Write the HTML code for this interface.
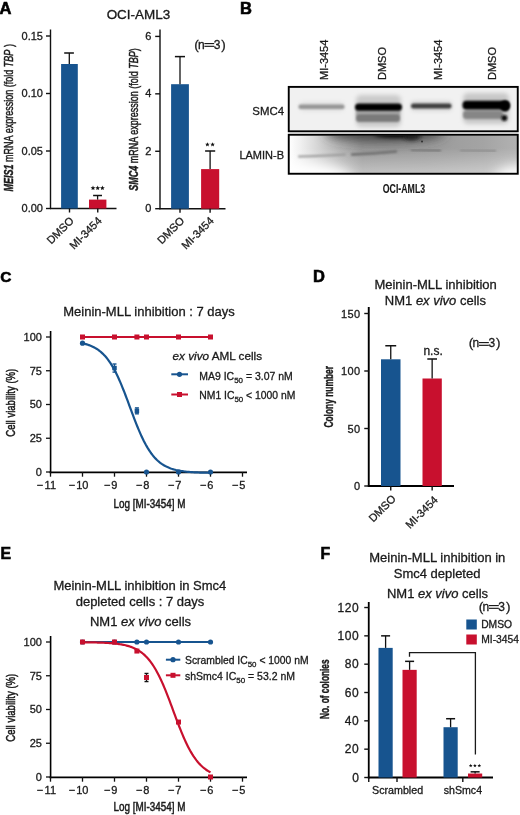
<!DOCTYPE html>
<html><head><meta charset="utf-8"><style>
html,body{margin:0;padding:0;background:#fff;}
svg{display:block;font-family:"Liberation Sans", sans-serif;will-change:transform;}
text{stroke:#1a1a1a;stroke-width:0.3px;}
</style></head><body>
<svg width="520" height="815" viewBox="0 0 520 815">
<rect width="520" height="815" fill="#fff"/>
<text x="-0.5" y="13.9" font-size="16.5" text-anchor="start" font-weight="bold" fill="#000" style="stroke:#000;stroke-width:0.6px">A</text>
<text x="240" y="14.2" font-size="16.5" text-anchor="start" font-weight="bold" fill="#000" style="stroke:#000;stroke-width:0.6px">B</text>
<text x="0.3" y="281.5" font-size="15.5" text-anchor="start" font-weight="bold" fill="#000" style="stroke:#000;stroke-width:0.6px">C</text>
<text x="313" y="282" font-size="16.5" text-anchor="start" font-weight="bold" fill="#000" style="stroke:#000;stroke-width:0.6px">D</text>
<text x="0.6" y="559.3" font-size="15.8" text-anchor="start" font-weight="bold" fill="#000" style="stroke:#000;stroke-width:0.6px">E</text>
<text x="320.4" y="559.0" font-size="15.8" text-anchor="start" font-weight="bold" fill="#000" style="stroke:#000;stroke-width:0.6px">F</text>
<text x="138.45" y="18.8" font-size="12" text-anchor="middle" fill="#1a1a1a" textLength="63.6" lengthAdjust="spacingAndGlyphs">OCI-AML3</text>
<line x1="50.5" y1="29.5" x2="50.5" y2="209.1" stroke="#111" stroke-width="1.4"/>
<line x1="49.9" y1="208.5" x2="116.5" y2="208.5" stroke="#111" stroke-width="1.4"/>
<line x1="46.0" y1="36.00000000000003" x2="50.5" y2="36.00000000000003" stroke="#111" stroke-width="1.4"/>
<text x="43" y="39.90000000000003" font-size="11" text-anchor="end" fill="#1a1a1a" >0.15</text>
<line x1="46.0" y1="93.5" x2="50.5" y2="93.5" stroke="#111" stroke-width="1.4"/>
<text x="43" y="97.4" font-size="11" text-anchor="end" fill="#1a1a1a" >0.10</text>
<line x1="46.0" y1="151.0" x2="50.5" y2="151.0" stroke="#111" stroke-width="1.4"/>
<text x="43" y="154.9" font-size="11" text-anchor="end" fill="#1a1a1a" >0.05</text>
<line x1="46.0" y1="208.5" x2="50.5" y2="208.5" stroke="#111" stroke-width="1.4"/>
<text x="43" y="212.4" font-size="11" text-anchor="end" fill="#1a1a1a" >0.00</text>
<rect x="61.1" y="64" width="16.7" height="144.5" fill="#17548f"/>
<line x1="69.3" y1="53" x2="69.3" y2="64" stroke="#111" stroke-width="1.3"/>
<line x1="64.2" y1="53" x2="73.9" y2="53" stroke="#111" stroke-width="1.5"/>
<rect x="89" y="199.6" width="17.4" height="8.900000000000006" fill="#c8102e"/>
<line x1="97.6" y1="195.5" x2="97.6" y2="199.6" stroke="#111" stroke-width="1.3"/>
<line x1="93.1" y1="195.5" x2="102" y2="195.5" stroke="#111" stroke-width="1.5"/>
<polygon points="93.00,185.55 93.66,187.14 95.38,187.28 94.07,188.40 94.47,190.07 93.00,189.18 91.53,190.07 91.93,188.40 90.62,187.28 92.34,187.14" fill="#111"/>
<polygon points="97.70,185.55 98.36,187.14 100.08,187.28 98.77,188.40 99.17,190.07 97.70,189.18 96.23,190.07 96.63,188.40 95.32,187.28 97.04,187.14" fill="#111"/>
<polygon points="102.40,185.55 103.06,187.14 104.78,187.28 103.47,188.40 103.87,190.07 102.40,189.18 100.93,190.07 101.33,188.40 100.02,187.28 101.74,187.14" fill="#111"/>
<line x1="69.5" y1="208.5" x2="69.5" y2="212.5" stroke="#111" stroke-width="1.4"/>
<line x1="97.75" y1="208.5" x2="97.75" y2="212.5" stroke="#111" stroke-width="1.4"/>
<text transform="translate(74.5,221.5) rotate(-45)" font-size="11" text-anchor="end" fill="#1a1a1a">DMSO</text>
<text transform="translate(102.5,221.5) rotate(-45)" font-size="11" text-anchor="end" fill="#1a1a1a">MI-3454</text>
<text transform="translate(12.9,117.8) rotate(-90)" font-size="12.5" text-anchor="middle" textLength="147.4" lengthAdjust="spacingAndGlyphs" fill="#1a1a1a" style="stroke-width:0.45px"><tspan font-style="italic" font-weight="bold">MEIS1</tspan><tspan> mRNA expression (fold </tspan><tspan font-style="italic">TBP</tspan><tspan> )</tspan></text>
<line x1="160" y1="29.5" x2="160" y2="209.29999999999998" stroke="#111" stroke-width="1.4"/>
<line x1="159.4" y1="208.7" x2="225.5" y2="208.7" stroke="#111" stroke-width="1.4"/>
<line x1="155.2" y1="36.41" x2="160" y2="36.41" stroke="#111" stroke-width="1.4"/>
<text x="151.4" y="39.809999999999995" font-size="11" text-anchor="end" fill="#1a1a1a" >6</text>
<line x1="155.2" y1="93.83999999999999" x2="160" y2="93.83999999999999" stroke="#111" stroke-width="1.4"/>
<text x="151.4" y="97.24" font-size="11" text-anchor="end" fill="#1a1a1a" >4</text>
<line x1="155.2" y1="151.26999999999998" x2="160" y2="151.26999999999998" stroke="#111" stroke-width="1.4"/>
<text x="151.4" y="154.67" font-size="11" text-anchor="end" fill="#1a1a1a" >2</text>
<line x1="155.2" y1="208.7" x2="160" y2="208.7" stroke="#111" stroke-width="1.4"/>
<text x="151.4" y="212.1" font-size="11" text-anchor="end" fill="#1a1a1a" >0</text>
<rect x="171.1" y="84.2" width="17.8" height="124.49999999999999" fill="#17548f"/>
<line x1="180" y1="56.6" x2="180" y2="84.2" stroke="#111" stroke-width="1.3"/>
<line x1="174.9" y1="56.6" x2="185" y2="56.6" stroke="#111" stroke-width="1.5"/>
<rect x="201.1" y="169.1" width="18.1" height="39.599999999999994" fill="#c8102e"/>
<line x1="210.1" y1="151" x2="210.1" y2="169.1" stroke="#111" stroke-width="1.3"/>
<line x1="205.1" y1="151" x2="215.2" y2="151" stroke="#111" stroke-width="1.5"/>
<polygon points="207.40,142.14 208.03,143.67 209.68,143.80 208.43,144.87 208.81,146.48 207.40,145.62 205.99,146.48 206.37,144.87 205.12,143.80 206.77,143.67" fill="#111"/>
<polygon points="212.60,142.14 213.23,143.67 214.88,143.80 213.63,144.87 214.01,146.48 212.60,145.62 211.19,146.48 211.57,144.87 210.32,143.80 211.97,143.67" fill="#111"/>
<line x1="180" y1="208.7" x2="180" y2="212.7" stroke="#111" stroke-width="1.4"/>
<line x1="210.1" y1="208.7" x2="210.1" y2="212.7" stroke="#111" stroke-width="1.4"/>
<text transform="translate(185,221.5) rotate(-45)" font-size="11" text-anchor="end" fill="#1a1a1a">DMSO</text>
<text transform="translate(214.5,221.5) rotate(-45)" font-size="11" text-anchor="end" fill="#1a1a1a">MI-3454</text>
<text x="194.16" y="48.7" font-size="13.5" text-anchor="start" fill="#1a1a1a" >(</text>
<text x="197.9" y="48.7" font-size="12" text-anchor="start" fill="#1a1a1a" >n</text>
<rect x="204.40" y="43" width="9.8" height="1.15" fill="#1a1a1a"/>
<rect x="204.40" y="45.75" width="9.8" height="1.15" fill="#1a1a1a"/>
<text x="213.74" y="48.7" font-size="12" text-anchor="start" fill="#1a1a1a" >3</text>
<text x="221.34" y="48.7" font-size="13.5" text-anchor="start" fill="#1a1a1a" >)</text>
<text transform="translate(137.6,119.6) rotate(-90)" font-size="12.5" text-anchor="middle" textLength="142.5" lengthAdjust="spacingAndGlyphs" fill="#1a1a1a" style="stroke-width:0.45px"><tspan font-style="italic" font-weight="bold">SMC4</tspan><tspan> mRNA expression (fold </tspan><tspan font-style="italic">TBP</tspan><tspan>)</tspan></text>
<text transform="translate(327.5,80) rotate(-90)" font-size="11" text-anchor="start" fill="#1a1a1a">MI-3454</text>
<text transform="translate(386,80) rotate(-90)" font-size="11" text-anchor="start" fill="#1a1a1a">DMSO</text>
<text transform="translate(442,80) rotate(-90)" font-size="11" text-anchor="start" fill="#1a1a1a">MI-3454</text>
<text transform="translate(496,80) rotate(-90)" font-size="11" text-anchor="start" fill="#1a1a1a">DMSO</text>
<text x="284" y="115.2" font-size="11.4" text-anchor="end" fill="#1a1a1a" >SMC4</text>
<text x="284" y="159.4" font-size="11" text-anchor="end" fill="#1a1a1a" >LAMIN-B</text>
<text transform="translate(403.95,192.8) rotate(0)" font-size="13.4" text-anchor="middle" font-weight="bold" textLength="42.3" lengthAdjust="spacingAndGlyphs" fill="#1a1a1a" style="stroke-width:0.15px">OCI-AML3</text>
<defs>
<filter id="b08" x="-30%" y="-200%" width="160%" height="500%"><feGaussianBlur stdDeviation="0.8"/></filter>
<filter id="b1" x="-30%" y="-200%" width="160%" height="500%"><feGaussianBlur stdDeviation="1.2"/></filter>
<filter id="b2" x="-30%" y="-200%" width="160%" height="500%"><feGaussianBlur stdDeviation="2"/></filter>
<filter id="b4" x="-50%" y="-100%" width="200%" height="300%"><feGaussianBlur stdDeviation="4"/></filter>
<filter id="b6" x="-50%" y="-100%" width="200%" height="300%"><feGaussianBlur stdDeviation="6"/></filter>
<filter id="b10" x="-50%" y="-100%" width="200%" height="300%"><feGaussianBlur stdDeviation="10"/></filter>
<clipPath id="c1"><rect x="289.5" y="88" width="227.5" height="42.5"/></clipPath>
<clipPath id="c2"><rect x="289.5" y="135.5" width="227.5" height="37.5"/></clipPath>
<linearGradient id="lg2" x1="289" y1="0" x2="518" y2="0" gradientUnits="userSpaceOnUse">
<stop offset="0" stop-color="#ffffff"/><stop offset="0.05" stop-color="#f0f0f0"/><stop offset="0.14" stop-color="#d0d0d0"/><stop offset="0.23" stop-color="#b0b0b0"/><stop offset="0.32" stop-color="#969696"/><stop offset="0.6" stop-color="#9a9a9a"/><stop offset="0.85" stop-color="#a4a4a4"/><stop offset="1" stop-color="#b2b2b2"/></linearGradient>
<linearGradient id="lg3" x1="0" y1="148" x2="0" y2="175" gradientUnits="userSpaceOnUse">
<stop offset="0" stop-color="#fff" stop-opacity="0"/><stop offset="1" stop-color="#fff" stop-opacity="0.45"/></linearGradient>
</defs>
<g clip-path="url(#c1)">
<rect x="289" y="87" width="229" height="45" fill="#f1f1f1"/>
<rect x="356" y="95" width="45" height="32" rx="5" fill="#cacaca" filter="url(#b2)"/>
<rect x="463" y="93" width="46" height="31" rx="5" fill="#c8c8c8" filter="url(#b2)"/>
<rect x="300" y="102" width="44" height="9" rx="4" fill="#e0e0e0" filter="url(#b2)"/>
<rect x="411" y="101" width="41" height="10" rx="4" fill="#d6d6d6" filter="url(#b2)"/>
<rect x="298.5" y="104.5" width="46" height="4.4" rx="2" fill="#959595" filter="url(#b08)"/>
<rect x="356" y="109" width="44" height="6" fill="#a8a8a8" filter="url(#b1)"/>
<rect x="356" y="114" width="44" height="8" rx="3" fill="#7a7a7a" filter="url(#b1)"/>
<rect x="355" y="103.4" width="47" height="7.4" rx="3.5" fill="#000" filter="url(#b08)"/>
<rect x="411" y="103.6" width="40.5" height="4.8" rx="2.2" fill="#404040" filter="url(#b08)"/>
<rect x="463" y="110.5" width="40" height="8.5" rx="3.5" fill="#868686" filter="url(#b1)"/>
<rect x="462.5" y="100.8" width="47" height="8.6" rx="4" fill="#000" filter="url(#b08)"/>
<circle cx="504.3" cy="118" r="3" fill="#111" filter="url(#b08)"/>
<ellipse cx="505" cy="106" rx="5" ry="5.5" fill="#000" filter="url(#b08)"/>
</g>
<rect x="288.75" y="86.9" width="229" height="44.4" fill="none" stroke="#000" stroke-width="1.9"/>
<g clip-path="url(#c2)">
<rect x="289" y="134" width="229" height="41" fill="url(#lg2)"/>
<rect x="289" y="134" width="229" height="41" fill="url(#lg3)"/>
<ellipse cx="305" cy="180" rx="48" ry="16" fill="#ffffff" filter="url(#b6)"/>
<ellipse cx="522" cy="180" rx="28" ry="14" fill="#ffffff" filter="url(#b6)"/>
<ellipse cx="385" cy="132" rx="60" ry="9" fill="#3a3a3a" filter="url(#b6)"/>
<ellipse cx="398" cy="134" rx="24" ry="3.5" fill="#000" filter="url(#b2)"/>
<ellipse cx="412" cy="137" rx="8" ry="3" fill="#222" filter="url(#b2)"/>
<path d="M299,156.5 Q320,156 345,154.5" stroke="#9a9a9a" stroke-width="2.2" fill="none" stroke-linecap="round" filter="url(#b08)"/>
<path d="M352,154.5 Q375,153.5 396,151.5" stroke="#6e6e6e" stroke-width="2.4" fill="none" stroke-linecap="round" filter="url(#b08)"/>
<path d="M412,150 L440,150.5" stroke="#7a7a7a" stroke-width="2.6" fill="none" stroke-linecap="round" filter="url(#b1)"/>
<path d="M461,150.5 L495,151" stroke="#909090" stroke-width="2.4" fill="none" stroke-linecap="round" filter="url(#b1)"/>
<circle cx="422" cy="141.5" r="1.1" fill="#333"/>
</g>
<rect x="288.75" y="134.75" width="229" height="39" fill="none" stroke="#000" stroke-width="1.9"/>
<text x="149" y="315.5" font-size="13" text-anchor="middle" fill="#1a1a1a" >Meinin-MLL inhibition : 7 days</text>
<line x1="50.6" y1="331" x2="50.6" y2="473.2" stroke="#000" stroke-width="1.6"/>
<line x1="46" y1="472.0" x2="50.5" y2="472.0" stroke="#111" stroke-width="1.3"/>
<text x="41.9" y="475.9" font-size="11" text-anchor="end" fill="#1a1a1a" >0</text>
<line x1="46" y1="438.25" x2="50.5" y2="438.25" stroke="#111" stroke-width="1.3"/>
<text x="41.9" y="442.15" font-size="11" text-anchor="end" fill="#1a1a1a" >25</text>
<line x1="46" y1="404.5" x2="50.5" y2="404.5" stroke="#111" stroke-width="1.3"/>
<text x="41.9" y="408.4" font-size="11" text-anchor="end" fill="#1a1a1a" >50</text>
<line x1="46" y1="370.75" x2="50.5" y2="370.75" stroke="#111" stroke-width="1.3"/>
<text x="41.9" y="374.65" font-size="11" text-anchor="end" fill="#1a1a1a" >75</text>
<line x1="46" y1="337.0" x2="50.5" y2="337.0" stroke="#111" stroke-width="1.3"/>
<text x="41.9" y="340.9" font-size="11" text-anchor="end" fill="#1a1a1a" >100</text>
<line x1="49.6" y1="472.4" x2="247" y2="472.4" stroke="#000" stroke-width="1.8"/>
<line x1="50.5" y1="472" x2="50.5" y2="476.7" stroke="#111" stroke-width="1.3"/>
<text x="50.3" y="488.9" font-size="11" text-anchor="middle" fill="#1a1a1a" >11</text>
<text x="43.28" y="488.9" font-size="11" text-anchor="end" fill="#1a1a1a" >−</text>
<line x1="82.5" y1="472" x2="82.5" y2="476.7" stroke="#111" stroke-width="1.3"/>
<text x="82.3" y="488.9" font-size="11" text-anchor="middle" fill="#1a1a1a" >10</text>
<text x="75.27999999999999" y="488.9" font-size="11" text-anchor="end" fill="#1a1a1a" >−</text>
<line x1="114.5" y1="472" x2="114.5" y2="476.7" stroke="#111" stroke-width="1.3"/>
<text x="114.3" y="488.9" font-size="11" text-anchor="middle" fill="#1a1a1a" >9</text>
<text x="110.33999999999999" y="488.9" font-size="11" text-anchor="end" fill="#1a1a1a" >−</text>
<line x1="146.5" y1="472" x2="146.5" y2="476.7" stroke="#111" stroke-width="1.3"/>
<text x="146.3" y="488.9" font-size="11" text-anchor="middle" fill="#1a1a1a" >8</text>
<text x="142.34" y="488.9" font-size="11" text-anchor="end" fill="#1a1a1a" >−</text>
<line x1="178.5" y1="472" x2="178.5" y2="476.7" stroke="#111" stroke-width="1.3"/>
<text x="178.3" y="488.9" font-size="11" text-anchor="middle" fill="#1a1a1a" >7</text>
<text x="174.34" y="488.9" font-size="11" text-anchor="end" fill="#1a1a1a" >−</text>
<line x1="210.5" y1="472" x2="210.5" y2="476.7" stroke="#111" stroke-width="1.3"/>
<text x="210.3" y="488.9" font-size="11" text-anchor="middle" fill="#1a1a1a" >6</text>
<text x="206.34" y="488.9" font-size="11" text-anchor="end" fill="#1a1a1a" >−</text>
<line x1="242.5" y1="472" x2="242.5" y2="476.7" stroke="#111" stroke-width="1.3"/>
<text x="242.3" y="488.9" font-size="11" text-anchor="middle" fill="#1a1a1a" >5</text>
<text x="238.34" y="488.9" font-size="11" text-anchor="end" fill="#1a1a1a" >−</text>
<text transform="translate(15.2,402.75) rotate(-90)" font-size="12.8" text-anchor="middle" textLength="68" lengthAdjust="spacingAndGlyphs" fill="#1a1a1a" style="stroke-width:0.5px">Cell viability (%)</text>
<text transform="translate(149.5,507.6) rotate(0)" font-size="12.3" text-anchor="middle" textLength="71.8" lengthAdjust="spacingAndGlyphs" fill="#1a1a1a" style="stroke-width:0.5px">Log [MI-3454] M</text>
<path d="M82.50,343.31 L83.58,343.55 L84.65,343.82 L85.73,344.11 L86.80,344.42 L87.88,344.76 L88.95,345.13 L90.03,345.53 L91.11,345.97 L92.18,346.44 L93.26,346.95 L94.33,347.50 L95.41,348.10 L96.48,348.75 L97.56,349.45 L98.63,350.20 L99.71,351.01 L100.79,351.89 L101.86,352.83 L102.94,353.84 L104.01,354.93 L105.09,356.09 L106.16,357.33 L107.24,358.66 L108.32,360.07 L109.39,361.58 L110.47,363.18 L111.54,364.87 L112.62,366.66 L113.69,368.55 L114.77,370.53 L115.84,372.62 L116.92,374.80 L118.00,377.08 L119.07,379.44 L120.15,381.90 L121.22,384.43 L122.30,387.05 L123.37,389.73 L124.45,392.47 L125.53,395.27 L126.60,398.11 L127.68,400.98 L128.75,403.87 L129.83,406.78 L130.90,409.68 L131.98,412.58 L133.05,415.45 L134.13,418.29 L135.21,421.08 L136.28,423.83 L137.36,426.51 L138.43,429.12 L139.51,431.66 L140.58,434.11 L141.66,436.48 L142.74,438.76 L143.81,440.94 L144.89,443.02 L145.96,445.01 L147.04,446.90 L148.11,448.69 L149.19,450.38 L150.26,451.98 L151.34,453.48 L152.42,454.90 L153.49,456.23 L154.57,457.47 L155.64,458.63 L156.72,459.72 L157.79,460.73 L158.87,461.67 L159.95,462.54 L161.02,463.36 L162.10,464.11 L163.17,464.81 L164.25,465.46 L165.32,466.06 L166.40,466.61 L167.47,467.12 L168.55,467.59 L169.63,468.03 L170.70,468.43 L171.78,468.80 L172.85,469.14 L173.93,469.45 L175.00,469.74 L176.08,470.01 L177.16,470.25 L178.23,470.47 L179.31,470.68 L180.38,470.87 L181.46,471.04 L182.53,471.20 L183.61,471.35 L184.68,471.48 L185.76,471.61 L186.84,471.72 L187.91,471.82 L188.99,471.92 L190.06,472.01 L191.14,472.09 L192.21,472.16 L193.29,472.23 L194.37,472.29 L195.44,472.35 L196.52,472.40 L197.59,472.45 L198.67,472.49 L199.74,472.53 L200.82,472.57 L201.89,472.60 L202.97,472.63 L204.05,472.66 L205.12,472.68 L206.20,472.71 L207.27,472.73 L208.35,472.75 L209.42,472.77 L210.50,472.78" fill="none" stroke="#17548f" stroke-width="2.2"/>
<line x1="82.5" y1="337" x2="210.5" y2="337" stroke="#c8102e" stroke-width="2"/>
<rect x="80.0" y="334.5" width="5" height="5" fill="#c8102e"/>
<rect x="112.0" y="334.5" width="5" height="5" fill="#c8102e"/>
<rect x="134.39999999999998" y="334.5" width="5" height="5" fill="#c8102e"/>
<rect x="144.0" y="334.5" width="5" height="5" fill="#c8102e"/>
<rect x="176.0" y="334.5" width="5" height="5" fill="#c8102e"/>
<rect x="208.0" y="334.5" width="5" height="5" fill="#c8102e"/>
<circle cx="82.5" cy="343.21" r="2.6" fill="#17548f"/>
<line x1="114.5" y1="364.0" x2="114.5" y2="372.1" stroke="#17548f" stroke-width="1.2"/>
<line x1="112.5" y1="364.0" x2="116.5" y2="364.0" stroke="#17548f" stroke-width="1.4"/>
<line x1="112.5" y1="372.1" x2="116.5" y2="372.1" stroke="#17548f" stroke-width="1.4"/>
<rect x="112.25" y="365.8" width="4.5" height="4.5" fill="#17548f"/>
<line x1="136.89999999999998" y1="407.875" x2="136.89999999999998" y2="413.81500000000005" stroke="#17548f" stroke-width="1.2"/>
<line x1="134.89999999999998" y1="407.875" x2="138.89999999999998" y2="407.875" stroke="#17548f" stroke-width="1.4"/>
<line x1="134.89999999999998" y1="413.81500000000005" x2="138.89999999999998" y2="413.81500000000005" stroke="#17548f" stroke-width="1.4"/>
<rect x="134.64999999999998" y="408.595" width="4.5" height="4.5" fill="#17548f"/>
<circle cx="146.5" cy="472.0" r="2.6" fill="#17548f"/>
<circle cx="178.5" cy="472.0" r="2.6" fill="#17548f"/>
<circle cx="210.5" cy="472.0" r="2.6" fill="#17548f"/>
<text x="172.5" y="360" font-size="11.5" textLength="89.6" lengthAdjust="spacingAndGlyphs" fill="#1a1a1a"><tspan font-style="italic">ex vivo</tspan> AML cells</text>
<line x1="171.3" y1="374.3" x2="188" y2="374.3" stroke="#17548f" stroke-width="2"/>
<circle cx="179.5" cy="374.3" r="2.6" fill="#17548f"/>
<line x1="171.3" y1="394.5" x2="188" y2="394.5" stroke="#c8102e" stroke-width="2"/>
<rect x="177.0" y="392.0" width="5" height="5" fill="#c8102e"/>
<text x="199.3" y="379.6" font-size="10.5" textLength="93.4" lengthAdjust="spacingAndGlyphs" fill="#1a1a1a">MA9 IC<tspan font-size="8" dy="3">50</tspan><tspan dy="-3"> = 3.07 nM</tspan></text>
<text x="199.3" y="398.6" font-size="10.5" textLength="96" lengthAdjust="spacingAndGlyphs" fill="#1a1a1a">NM1 IC<tspan font-size="8" dy="3">50</tspan><tspan dy="-3"> &lt; 1000 nM</tspan></text>
<text x="435.6" y="288.7" font-size="13" text-anchor="middle" fill="#1a1a1a" >Meinin-MLL inhibition</text>
<text x="435.4" y="304.5" font-size="13" text-anchor="middle" fill="#1a1a1a">NM1 <tspan font-style="italic">ex vivo</tspan> cells</text>
<line x1="368.75" y1="307" x2="368.75" y2="486.9" stroke="#000" stroke-width="1.9"/>
<line x1="367.85" y1="486" x2="454" y2="486" stroke="#000" stroke-width="1.9"/>
<line x1="364.25" y1="313.5" x2="368.75" y2="313.5" stroke="#111" stroke-width="1.4"/>
<text x="360.6" y="317.6" font-size="11" text-anchor="end" fill="#1a1a1a" letter-spacing="0.45">150</text>
<line x1="364.25" y1="371.0" x2="368.75" y2="371.0" stroke="#111" stroke-width="1.4"/>
<text x="360.6" y="375.1" font-size="11" text-anchor="end" fill="#1a1a1a" letter-spacing="0.45">100</text>
<line x1="364.25" y1="428.5" x2="368.75" y2="428.5" stroke="#111" stroke-width="1.4"/>
<text x="360.6" y="432.6" font-size="11" text-anchor="end" fill="#1a1a1a" letter-spacing="0.45">50</text>
<line x1="364.25" y1="486.0" x2="368.75" y2="486.0" stroke="#111" stroke-width="1.4"/>
<text x="360.6" y="490.1" font-size="11" text-anchor="end" fill="#1a1a1a" letter-spacing="0.45">0</text>
<rect x="381" y="359.3" width="19.5" height="126.69999999999999" fill="#17548f"/>
<line x1="390.75" y1="345.75" x2="390.75" y2="359.3" stroke="#111" stroke-width="1.3"/>
<line x1="385.3" y1="345.75" x2="396.2" y2="345.75" stroke="#111" stroke-width="1.5"/>
<rect x="422.5" y="378.5" width="19.3" height="107.5" fill="#c8102e"/>
<line x1="432.15" y1="359" x2="432.15" y2="378.5" stroke="#111" stroke-width="1.3"/>
<line x1="427.3" y1="359" x2="437" y2="359" stroke="#111" stroke-width="1.5"/>
<text x="433.1" y="354.6" font-size="12" text-anchor="middle" fill="#1a1a1a" >n.s.</text>
<text x="468.81" y="347.4" font-size="13.5" text-anchor="start" fill="#1a1a1a" >(</text>
<text x="472.55" y="347.4" font-size="12" text-anchor="start" fill="#1a1a1a" >n</text>
<rect x="479.05" y="342" width="9.8" height="1.15" fill="#1a1a1a"/>
<rect x="479.05" y="344.75" width="9.8" height="1.15" fill="#1a1a1a"/>
<text x="488.39" y="347.4" font-size="12" text-anchor="start" fill="#1a1a1a" >3</text>
<text x="495.99" y="347.4" font-size="13.5" text-anchor="start" fill="#1a1a1a" >)</text>
<line x1="390.75" y1="486" x2="390.75" y2="490.5" stroke="#111" stroke-width="1.4"/>
<line x1="432.15" y1="486" x2="432.15" y2="490.5" stroke="#111" stroke-width="1.4"/>
<text transform="translate(396.5,499.5) rotate(-45)" font-size="11" text-anchor="end" fill="#1a1a1a">DMSO</text>
<text transform="translate(438.6,500.6) rotate(-45)" font-size="11" text-anchor="end" fill="#1a1a1a">MI-3454</text>
<text transform="translate(332.9,396.8) rotate(-90)" font-size="13.2" text-anchor="middle" font-weight="bold" textLength="61.6" lengthAdjust="spacingAndGlyphs" fill="#1a1a1a" style="stroke-width:0.4px">Colony number</text>
<text x="139.9" y="590" font-size="13" text-anchor="middle" fill="#1a1a1a" >Meinin-MLL inhibition in Smc4</text>
<text x="140" y="605.5" font-size="13" text-anchor="middle" fill="#1a1a1a" >depleted cells : 7 days</text>
<text x="140.5" y="625.5" font-size="13" text-anchor="middle" fill="#1a1a1a">NM1 <tspan font-style="italic">ex vivo</tspan> cells</text>
<line x1="50.6" y1="636" x2="50.6" y2="778.2" stroke="#000" stroke-width="1.6"/>
<line x1="46" y1="777.0" x2="50.5" y2="777.0" stroke="#111" stroke-width="1.3"/>
<text x="41.9" y="780.9" font-size="11" text-anchor="end" fill="#1a1a1a" >0</text>
<line x1="46" y1="743.25" x2="50.5" y2="743.25" stroke="#111" stroke-width="1.3"/>
<text x="41.9" y="747.15" font-size="11" text-anchor="end" fill="#1a1a1a" >25</text>
<line x1="46" y1="709.5" x2="50.5" y2="709.5" stroke="#111" stroke-width="1.3"/>
<text x="41.9" y="713.4" font-size="11" text-anchor="end" fill="#1a1a1a" >50</text>
<line x1="46" y1="675.75" x2="50.5" y2="675.75" stroke="#111" stroke-width="1.3"/>
<text x="41.9" y="679.65" font-size="11" text-anchor="end" fill="#1a1a1a" >75</text>
<line x1="46" y1="642.0" x2="50.5" y2="642.0" stroke="#111" stroke-width="1.3"/>
<text x="41.9" y="645.9" font-size="11" text-anchor="end" fill="#1a1a1a" >100</text>
<line x1="49.6" y1="777.4" x2="247" y2="777.4" stroke="#000" stroke-width="1.8"/>
<line x1="50.5" y1="777" x2="50.5" y2="781.7" stroke="#111" stroke-width="1.3"/>
<text x="50.3" y="793.9" font-size="11" text-anchor="middle" fill="#1a1a1a" >11</text>
<text x="43.28" y="793.9" font-size="11" text-anchor="end" fill="#1a1a1a" >−</text>
<line x1="82.5" y1="777" x2="82.5" y2="781.7" stroke="#111" stroke-width="1.3"/>
<text x="82.3" y="793.9" font-size="11" text-anchor="middle" fill="#1a1a1a" >10</text>
<text x="75.27999999999999" y="793.9" font-size="11" text-anchor="end" fill="#1a1a1a" >−</text>
<line x1="114.5" y1="777" x2="114.5" y2="781.7" stroke="#111" stroke-width="1.3"/>
<text x="114.3" y="793.9" font-size="11" text-anchor="middle" fill="#1a1a1a" >9</text>
<text x="110.33999999999999" y="793.9" font-size="11" text-anchor="end" fill="#1a1a1a" >−</text>
<line x1="146.5" y1="777" x2="146.5" y2="781.7" stroke="#111" stroke-width="1.3"/>
<text x="146.3" y="793.9" font-size="11" text-anchor="middle" fill="#1a1a1a" >8</text>
<text x="142.34" y="793.9" font-size="11" text-anchor="end" fill="#1a1a1a" >−</text>
<line x1="178.5" y1="777" x2="178.5" y2="781.7" stroke="#111" stroke-width="1.3"/>
<text x="178.3" y="793.9" font-size="11" text-anchor="middle" fill="#1a1a1a" >7</text>
<text x="174.34" y="793.9" font-size="11" text-anchor="end" fill="#1a1a1a" >−</text>
<line x1="210.5" y1="777" x2="210.5" y2="781.7" stroke="#111" stroke-width="1.3"/>
<text x="210.3" y="793.9" font-size="11" text-anchor="middle" fill="#1a1a1a" >6</text>
<text x="206.34" y="793.9" font-size="11" text-anchor="end" fill="#1a1a1a" >−</text>
<line x1="242.5" y1="777" x2="242.5" y2="781.7" stroke="#111" stroke-width="1.3"/>
<text x="242.3" y="793.9" font-size="11" text-anchor="middle" fill="#1a1a1a" >5</text>
<text x="238.34" y="793.9" font-size="11" text-anchor="end" fill="#1a1a1a" >−</text>
<text transform="translate(15.2,707.75) rotate(-90)" font-size="12.8" text-anchor="middle" textLength="68" lengthAdjust="spacingAndGlyphs" fill="#1a1a1a" style="stroke-width:0.5px">Cell viability (%)</text>
<text transform="translate(149.5,811.3) rotate(0)" font-size="12.3" text-anchor="middle" textLength="71.8" lengthAdjust="spacingAndGlyphs" fill="#1a1a1a" style="stroke-width:0.5px">Log [MI-3454] M</text>
<line x1="82.5" y1="642" x2="210.5" y2="642" stroke="#17548f" stroke-width="2"/>
<circle cx="82.5" cy="642" r="2.6" fill="#17548f"/>
<circle cx="114.5" cy="642" r="2.6" fill="#17548f"/>
<circle cx="136.89999999999998" cy="642" r="2.6" fill="#17548f"/>
<circle cx="146.5" cy="642" r="2.6" fill="#17548f"/>
<circle cx="178.5" cy="642" r="2.6" fill="#17548f"/>
<circle cx="210.5" cy="642" r="2.6" fill="#17548f"/>
<path d="M82.50,642.28 L83.58,642.29 L84.65,642.30 L85.73,642.31 L86.80,642.33 L87.88,642.34 L88.95,642.35 L90.03,642.37 L91.11,642.39 L92.18,642.41 L93.26,642.43 L94.33,642.45 L95.41,642.47 L96.48,642.50 L97.56,642.53 L98.63,642.56 L99.71,642.59 L100.79,642.63 L101.86,642.67 L102.94,642.71 L104.01,642.76 L105.09,642.81 L106.16,642.86 L107.24,642.92 L108.32,642.99 L109.39,643.06 L110.47,643.14 L111.54,643.22 L112.62,643.32 L113.69,643.42 L114.77,643.53 L115.84,643.64 L116.92,643.77 L118.00,643.91 L119.07,644.06 L120.15,644.23 L121.22,644.41 L122.30,644.60 L123.37,644.81 L124.45,645.04 L125.53,645.29 L126.60,645.56 L127.68,645.85 L128.75,646.16 L129.83,646.50 L130.90,646.87 L131.98,647.27 L133.05,647.71 L134.13,648.17 L135.21,648.68 L136.28,649.22 L137.36,649.81 L138.43,650.45 L139.51,651.13 L140.58,651.87 L141.66,652.66 L142.74,653.51 L143.81,654.43 L144.89,655.41 L145.96,656.45 L147.04,657.57 L148.11,658.77 L149.19,660.05 L150.26,661.41 L151.34,662.85 L152.42,664.39 L153.49,666.01 L154.57,667.73 L155.64,669.54 L156.72,671.44 L157.79,673.44 L158.87,675.53 L159.95,677.72 L161.02,679.99 L162.10,682.36 L163.17,684.81 L164.25,687.34 L165.32,689.94 L166.40,692.61 L167.47,695.34 L168.55,698.13 L169.63,700.96 L170.70,703.82 L171.78,706.71 L172.85,709.61 L173.93,712.51 L175.00,715.41 L176.08,718.29 L177.16,721.15 L178.23,723.97 L179.31,726.74 L180.38,729.46 L181.46,732.12 L182.53,734.70 L183.61,737.21 L184.68,739.65 L185.76,741.99 L186.84,744.25 L187.91,746.41 L188.99,748.48 L190.06,750.46 L191.14,752.34 L192.21,754.13 L193.29,755.83 L194.37,757.43 L195.44,758.94 L196.52,760.37 L197.59,761.71 L198.67,762.96 L199.74,764.14 L200.82,765.25 L201.89,766.28 L202.97,767.25 L204.05,768.14 L205.12,768.98 L206.20,769.76 L207.27,770.48 L208.35,771.16 L209.42,771.78 L210.50,772.36" fill="none" stroke="#c8102e" stroke-width="2.2"/>
<rect x="80.0" y="639.5" width="5" height="5" fill="#c8102e"/>
<rect x="112.0" y="639.5" width="5" height="5" fill="#c8102e"/>
<rect x="134.39999999999998" y="648.545" width="5" height="5" fill="#c8102e"/>
<line x1="146.5" y1="673.455" x2="146.5" y2="681.555" stroke="#111" stroke-width="1.2"/>
<line x1="144.5" y1="673.455" x2="148.5" y2="673.455" stroke="#111" stroke-width="1.4"/>
<line x1="144.5" y1="681.555" x2="148.5" y2="681.555" stroke="#111" stroke-width="1.4"/>
<rect x="144.0" y="675.005" width="5" height="5" fill="#c8102e"/>
<rect x="176.0" y="719.555" width="5" height="5" fill="#c8102e"/>
<rect x="208.0" y="774.5" width="5" height="5" fill="#c8102e"/>
<line x1="165.9" y1="659.7" x2="180.3" y2="659.7" stroke="#17548f" stroke-width="2"/>
<circle cx="173" cy="659.7" r="2.6" fill="#17548f"/>
<line x1="165.9" y1="675.3" x2="180.3" y2="675.3" stroke="#c8102e" stroke-width="2"/>
<rect x="170.5" y="672.8" width="5" height="5" fill="#c8102e"/>
<text x="185" y="664" font-size="10.5" textLength="123.6" lengthAdjust="spacingAndGlyphs" fill="#1a1a1a">Scrambled IC<tspan font-size="8" dy="3">50</tspan><tspan dy="-3"> &lt; 1000 nM</tspan></text>
<text x="185" y="679.5" font-size="10.5" textLength="110" lengthAdjust="spacingAndGlyphs" fill="#1a1a1a">shSmc4 IC<tspan font-size="8" dy="3">50</tspan><tspan dy="-3"> = 53.2 nM</tspan></text>
<text x="437.3" y="561.75" font-size="13" text-anchor="middle" fill="#1a1a1a" >Meinin-MLL inhibition in</text>
<text x="437.1" y="577.5" font-size="13" text-anchor="middle" fill="#1a1a1a" >Smc4 depleted</text>
<text x="437.5" y="597.5" font-size="13" text-anchor="middle" fill="#1a1a1a">NM1 <tspan font-style="italic">ex vivo</tspan> cells</text>
<line x1="368.75" y1="602" x2="368.75" y2="778.4" stroke="#000" stroke-width="1.8"/>
<line x1="367.85" y1="777.5" x2="493" y2="777.5" stroke="#000" stroke-width="1.8"/>
<line x1="364.25" y1="607.52" x2="368.75" y2="607.52" stroke="#111" stroke-width="1.4"/>
<text x="359.5" y="611.72" font-size="12" text-anchor="end" fill="#1a1a1a" letter-spacing="0.7">120</text>
<line x1="364.25" y1="635.85" x2="368.75" y2="635.85" stroke="#111" stroke-width="1.4"/>
<text x="359.5" y="640.0500000000001" font-size="12" text-anchor="end" fill="#1a1a1a" letter-spacing="0.7">100</text>
<line x1="364.25" y1="664.1800000000001" x2="368.75" y2="664.1800000000001" stroke="#111" stroke-width="1.4"/>
<text x="359.5" y="668.3800000000001" font-size="12" text-anchor="end" fill="#1a1a1a" letter-spacing="0.7">80</text>
<line x1="364.25" y1="692.51" x2="368.75" y2="692.51" stroke="#111" stroke-width="1.4"/>
<text x="359.5" y="696.71" font-size="12" text-anchor="end" fill="#1a1a1a" letter-spacing="0.7">60</text>
<line x1="364.25" y1="720.84" x2="368.75" y2="720.84" stroke="#111" stroke-width="1.4"/>
<text x="359.5" y="725.0400000000001" font-size="12" text-anchor="end" fill="#1a1a1a" letter-spacing="0.7">40</text>
<line x1="364.25" y1="749.17" x2="368.75" y2="749.17" stroke="#111" stroke-width="1.4"/>
<text x="359.5" y="753.37" font-size="12" text-anchor="end" fill="#1a1a1a" letter-spacing="0.7">20</text>
<line x1="364.25" y1="777.5" x2="368.75" y2="777.5" stroke="#111" stroke-width="1.4"/>
<text x="359.5" y="781.7" font-size="12" text-anchor="end" fill="#1a1a1a" letter-spacing="0.7">0</text>
<rect x="378.5" y="647.89025" width="14.2" height="129.60974999999996" fill="#17548f"/>
<line x1="385.6" y1="635.85" x2="385.6" y2="647.89025" stroke="#111" stroke-width="1.3"/>
<line x1="381.1" y1="635.85" x2="390.1" y2="635.85" stroke="#111" stroke-width="1.5"/>
<rect x="402.5" y="669.846" width="14.2" height="107.654" fill="#c8102e"/>
<line x1="409.6" y1="661.347" x2="409.6" y2="669.846" stroke="#111" stroke-width="1.3"/>
<line x1="405.1" y1="661.347" x2="414.1" y2="661.347" stroke="#111" stroke-width="1.5"/>
<rect x="443.5" y="727.21425" width="14.2" height="50.28575000000001" fill="#17548f"/>
<line x1="450.6" y1="718.71525" x2="450.6" y2="727.21425" stroke="#111" stroke-width="1.3"/>
<line x1="446.1" y1="718.71525" x2="455.1" y2="718.71525" stroke="#111" stroke-width="1.5"/>
<rect x="468" y="773.5338" width="14.2" height="3.966199999999958" fill="#c8102e"/>
<line x1="475.1" y1="771.834" x2="475.1" y2="773.5338" stroke="#111" stroke-width="1.3"/>
<line x1="470.6" y1="771.834" x2="479.6" y2="771.834" stroke="#111" stroke-width="1.5"/>
<line x1="368.75" y1="777.5" x2="368.75" y2="782.0" stroke="#111" stroke-width="1.4"/>
<line x1="397" y1="777.5" x2="397" y2="782.0" stroke="#111" stroke-width="1.4"/>
<line x1="462.8" y1="777.5" x2="462.8" y2="782.0" stroke="#111" stroke-width="1.4"/>
<text x="397.6" y="793.7" font-size="10.7" text-anchor="middle" fill="#1a1a1a" >Scrambled</text>
<text x="462.9" y="793.7" font-size="10.6" text-anchor="middle" fill="#1a1a1a" >shSmc4</text>
<path d="M409.5,656.7 V652.6 H475.4 V754.4" fill="none" stroke="#1a1a1a" stroke-width="1.3"/>
<polygon points="470.70,763.79 471.20,765.00 472.51,765.10 471.51,765.95 471.82,767.23 470.70,766.55 469.58,767.23 469.89,765.95 468.89,765.10 470.20,765.00" fill="#111"/>
<polygon points="474.90,763.79 475.40,765.00 476.71,765.10 475.71,765.95 476.02,767.23 474.90,766.55 473.78,767.23 474.09,765.95 473.09,765.10 474.40,765.00" fill="#111"/>
<polygon points="479.30,763.79 479.80,765.00 481.11,765.10 480.11,765.95 480.42,767.23 479.30,766.55 478.18,767.23 478.49,765.95 477.49,765.10 478.80,765.00" fill="#111"/>
<text x="478.76" y="610.7" font-size="13.5" text-anchor="start" fill="#1a1a1a" >(</text>
<text x="482.5" y="610.7" font-size="12" text-anchor="start" fill="#1a1a1a" >n</text>
<rect x="489.00" y="605" width="9.8" height="1.15" fill="#1a1a1a"/>
<rect x="489.00" y="607.75" width="9.8" height="1.15" fill="#1a1a1a"/>
<text x="498.34" y="610.7" font-size="12" text-anchor="start" fill="#1a1a1a" >3</text>
<text x="505.94" y="610.7" font-size="13.5" text-anchor="start" fill="#1a1a1a" >)</text>
<rect x="466.3" y="619.5" width="10.5" height="10" fill="#17548f"/>
<text x="481.2" y="628.3" font-size="10.3" text-anchor="start" fill="#1a1a1a" >DMSO</text>
<rect x="466.3" y="634.5" width="10.5" height="10" fill="#c8102e"/>
<text x="481.2" y="643.3" font-size="10.3" text-anchor="start" fill="#1a1a1a" >MI-3454</text>
<text transform="translate(329.2,689.2) rotate(-90)" font-size="12.6" text-anchor="middle" font-weight="bold" textLength="59.6" lengthAdjust="spacingAndGlyphs" fill="#1a1a1a" style="stroke-width:0.4px">No. of colonies</text>
</svg></body></html>
